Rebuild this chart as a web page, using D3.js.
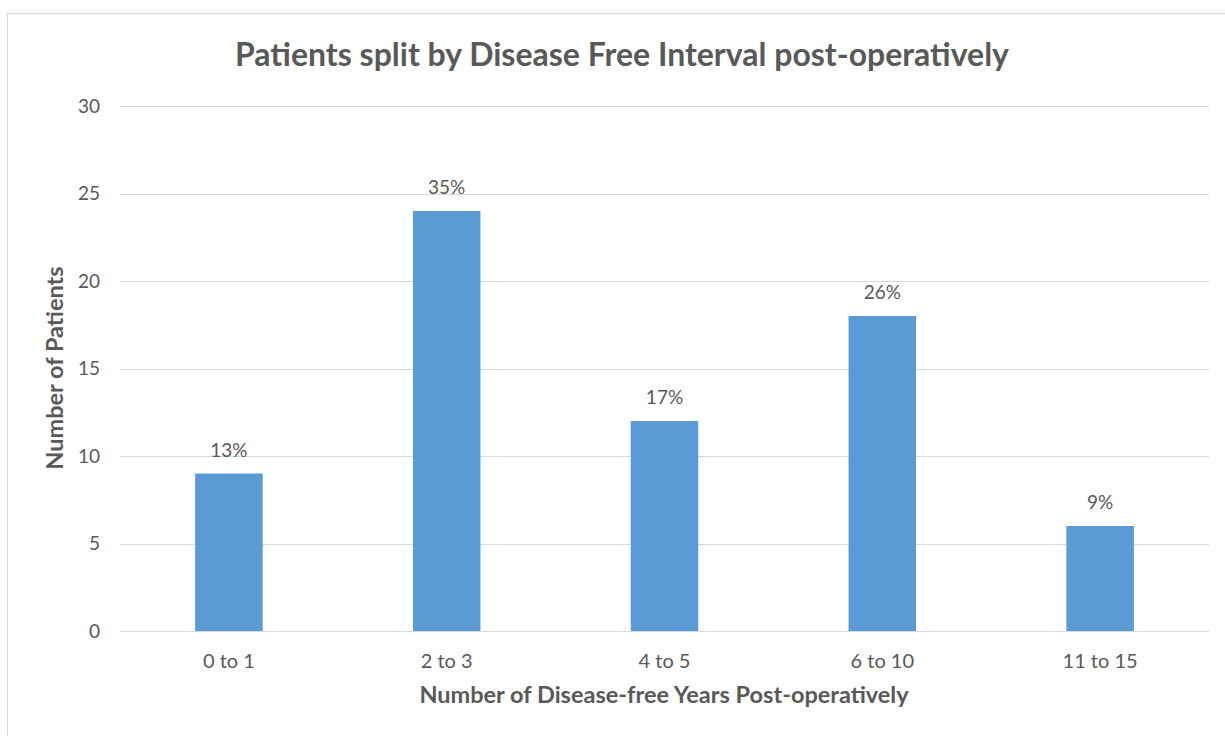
<!DOCTYPE html>
<html>
<head>
<meta charset="utf-8">
<script src="https://cdn.jsdelivr.net/npm/d3@7"></script>
<style>
  html, body { margin: 0; padding: 0; background: #fff; }
  svg { display: block; font-family: Lato, "Open Sans", sans-serif; }
</style>
</head>
<body>
<svg id="chart" width="1225" height="736"></svg>
<script>
// Disease-free interval groups (years) and patient counts
const categories = ["0 to 1", "2 to 3", "4 to 5", "6 to 10", "11 to 15"];
const patients = [9, 24, 12, 18, 6];
const shareLabels = ["13%", "35%", "17%", "26%", "9%"];
const yTicks = [0, 5, 10, 15, 20, 25, 30];

const chartTitle = "Patients split by Disease Free Interval post-operatively";
const xTitle = "Number of Disease-free Years Post-operatively";
const yTitle = "Number of Patients";

const svg = d3.select("#chart");
const W = 1225, H = 736;
const plot = { left: 120, right: 1209, top: 106, bottom: 631 };
const textColor = "#595959";
const font = "Lato, 'Open Sans', sans-serif";

// chart frame
svg.append("rect")
  .attr("x", 7.5).attr("y", 13.5)
  .attr("width", W + 10).attr("height", H + 10)
  .attr("fill", "#fff").attr("stroke", "#d9d9d9").attr("stroke-width", 1.2);

const x = d3.scaleBand()
  .domain(categories)
  .range([plot.left, plot.right])
  .paddingInner(0.69)
  .paddingOuter(0.345);

const y = d3.scaleLinear()
  .domain([0, 30])
  .range([plot.bottom, plot.top]);

// horizontal gridlines
svg.append("g")
  .selectAll("line")
  .data(yTicks)
  .join("line")
  .attr("x1", plot.left).attr("x2", plot.right)
  .attr("y1", d => Math.round(y(d)) + 0.5)
  .attr("y2", d => Math.round(y(d)) + 0.5)
  .attr("stroke", "#d9d9d9").attr("stroke-width", 1);

// y axis tick labels
const yAxis = d3.axisLeft(y).tickValues(yTicks).tickSize(0).tickPadding(0);
const gy = svg.append("g")
  .attr("transform", `translate(${plot.left - 20},0)`)
  .call(yAxis);
gy.select(".domain").remove();
gy.selectAll("text")
  .attr("fill", textColor)
  .style("font-size", "19px")
  .style("font-family", font);

// x axis category labels
const xAxis = d3.axisBottom(x).tickSize(0).tickPadding(0);
const gx = svg.append("g")
  .attr("transform", `translate(0,${plot.bottom + 23})`)
  .call(xAxis);
gx.select(".domain").remove();
gx.selectAll("text")
  .attr("fill", textColor)
  .style("font-size", "20px")
  .style("font-family", font);

// bars
svg.append("g")
  .selectAll("rect")
  .data(categories)
  .join("rect")
  .attr("x", d => x(d))
  .attr("width", x.bandwidth())
  .attr("y", (d, i) => y(patients[i]))
  .attr("height", (d, i) => y(0) - y(patients[i]))
  .attr("fill", "#5b9bd5");

// percentage labels above bars
svg.append("g")
  .selectAll("text")
  .data(categories)
  .join("text")
  .attr("x", d => x(d) + x.bandwidth() / 2)
  .attr("y", (d, i) => y(patients[i]) - 17)
  .attr("text-anchor", "middle")
  .attr("fill", textColor)
  .style("font-size", "19px")
  .text((d, i) => shareLabels[i]);

// titles
svg.append("text")
  .attr("x", 622).attr("y", 66)
  .attr("text-anchor", "middle")
  .attr("fill", textColor)
  .style("font-size", "32px").style("font-weight", "bold")
  .text(chartTitle);

svg.append("text")
  .attr("x", 664).attr("y", 703)
  .attr("text-anchor", "middle")
  .attr("fill", textColor)
  .style("font-size", "23.5px").style("font-weight", "bold")
  .text(xTitle);

svg.append("text")
  .attr("transform", "translate(63,368) rotate(-90)")
  .attr("text-anchor", "middle")
  .attr("fill", textColor)
  .style("font-size", "23.5px").style("font-weight", "bold")
  .text(yTitle);
</script>
</body>
</html>
